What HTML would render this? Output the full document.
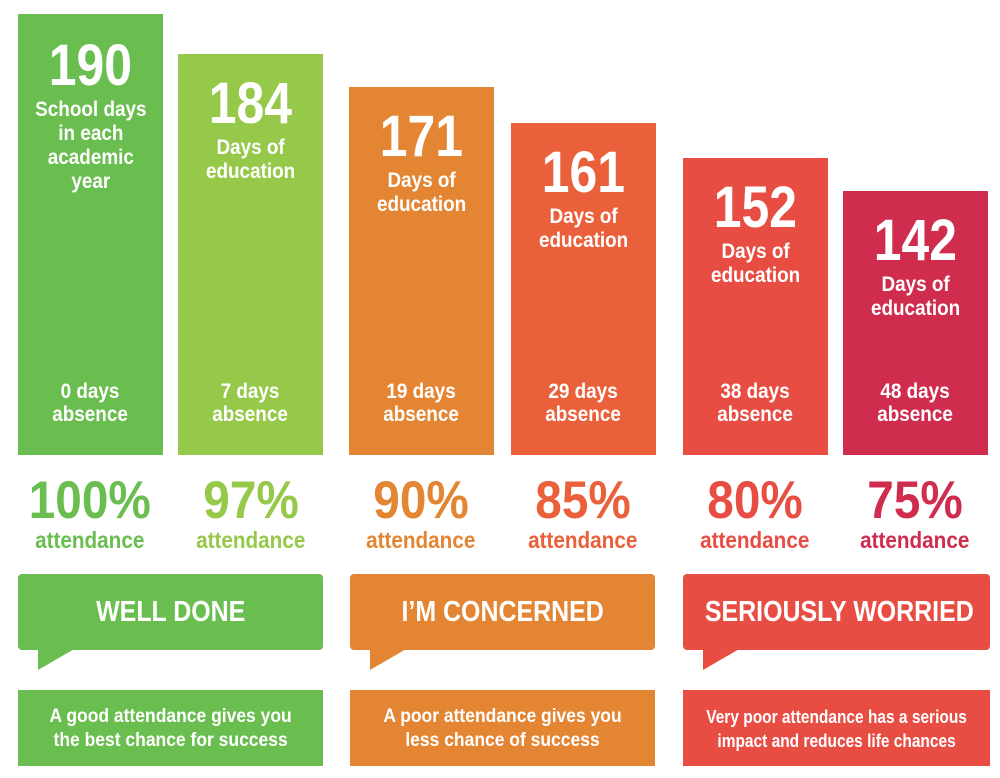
<!DOCTYPE html>
<html><head><style>
body{margin:0;width:1000px;height:778px;background:#fff;position:relative;overflow:hidden;font-family:"Liberation Sans",sans-serif;font-weight:bold;color:#fff}
.c{display:inline-block;transform:scaleX(0.9);white-space:nowrap}
.b{position:absolute;bottom:323px;width:145px;text-align:center}
.n{font-size:58px;line-height:56px}
.n .c{transform:scaleX(0.86)}
.l{font-size:21px;line-height:24px;margin-top:4px}
.a{position:absolute;top:380px;width:145px;text-align:center;font-size:21px;line-height:23px}
.p{position:absolute;top:474px;width:170px;text-align:center;font-size:53px;line-height:54px}
.p .c{transform:scaleX(0.9)}
.at{position:absolute;top:527px;width:170px;text-align:center;font-size:23px;line-height:26px}
.s{position:absolute;top:574px;height:76px;border-radius:4px;text-align:center;font-size:29px;line-height:76px}
.s .c{transform:scaleX(0.86)}
.t{position:absolute;width:0;height:0;border-top:22px solid;border-right:38px solid transparent}
.d{position:absolute;top:690px;height:76px;text-align:center;font-size:19px;line-height:24px;box-sizing:border-box;padding-top:15px;overflow:hidden}
.d .c{transform:scaleX(0.92)}
</style></head><body>
<div class="b" style="left:18px;top:14px;background:#6abd4f"><div class="n" style="margin-top:24px"><span class="c">190</span></div><div class="l"><span class="c">School days<br>in each<br>academic<br>year</span></div></div>
<div class="b" style="left:178px;top:54px;background:#96c84a"><div class="n" style="margin-top:22px"><span class="c">184</span></div><div class="l"><span class="c">Days of<br>education</span></div></div>
<div class="b" style="left:349px;top:87px;background:#e38532"><div class="n" style="margin-top:22px"><span class="c">171</span></div><div class="l"><span class="c">Days of<br>education</span></div></div>
<div class="b" style="left:511px;top:123px;background:#e9603a"><div class="n" style="margin-top:22px"><span class="c">161</span></div><div class="l"><span class="c">Days of<br>education</span></div></div>
<div class="b" style="left:683px;top:158px;background:#e84d43"><div class="n" style="margin-top:22px"><span class="c">152</span></div><div class="l"><span class="c">Days of<br>education</span></div></div>
<div class="b" style="left:843px;top:191px;background:#cf2c4e"><div class="n" style="margin-top:22px"><span class="c">142</span></div><div class="l"><span class="c">Days of<br>education</span></div></div>
<div class="a" style="left:18px"><span class="c">0 days<br>absence</span></div>
<div class="a" style="left:178px"><span class="c">7 days<br>absence</span></div>
<div class="a" style="left:349px"><span class="c">19 days<br>absence</span></div>
<div class="a" style="left:511px"><span class="c">29 days<br>absence</span></div>
<div class="a" style="left:683px"><span class="c">38 days<br>absence</span></div>
<div class="a" style="left:843px"><span class="c">48 days<br>absence</span></div>
<div class="p" style="left:5px;color:#6abd4f"><span class="c">100%</span></div><div class="at" style="left:5px;color:#6abd4f"><span class="c">attendance</span></div>
<div class="p" style="left:166px;color:#96c84a"><span class="c">97%</span></div><div class="at" style="left:166px;color:#96c84a"><span class="c">attendance</span></div>
<div class="p" style="left:336px;color:#e38532"><span class="c">90%</span></div><div class="at" style="left:336px;color:#e38532"><span class="c">attendance</span></div>
<div class="p" style="left:498px;color:#e9603a"><span class="c">85%</span></div><div class="at" style="left:498px;color:#e9603a"><span class="c">attendance</span></div>
<div class="p" style="left:670px;color:#e84d43"><span class="c">80%</span></div><div class="at" style="left:670px;color:#e84d43"><span class="c">attendance</span></div>
<div class="p" style="left:830px;color:#cf2c4e"><span class="c">75%</span></div><div class="at" style="left:830px;color:#cf2c4e"><span class="c">attendance</span></div>
<div class="s" style="left:18px;width:305px;background:#6abd4f"><span class="c">WELL DONE</span></div>
<div class="t" style="left:38px;top:648px;border-top-color:#6abd4f"></div>
<div class="s" style="left:350px;width:305px;background:#e38532"><span class="c">I’M CONCERNED</span></div>
<div class="t" style="left:370px;top:648px;border-top-color:#e38532"></div>
<div class="s" style="left:683px;width:307px;background:#e84d43"><span class="c">SERIOUSLY WORRIED</span></div>
<div class="t" style="left:703px;top:648px;border-top-color:#e84d43"></div>
<div class="d" style="left:18px;width:305px;background:#6abd4f"><span class="c">A good attendance gives you<br>the best chance for success</span></div>
<div class="d" style="left:350px;width:305px;background:#e38532"><span class="c">A poor attendance gives you<br>less chance of success</span></div>
<div class="d" style="left:683px;width:307px;background:#e84d43;font-size:18px"><span class="c" style="transform:scaleX(0.86)">Very poor attendance has a serious<br>impact and reduces life chances</span></div>
</body></html>
